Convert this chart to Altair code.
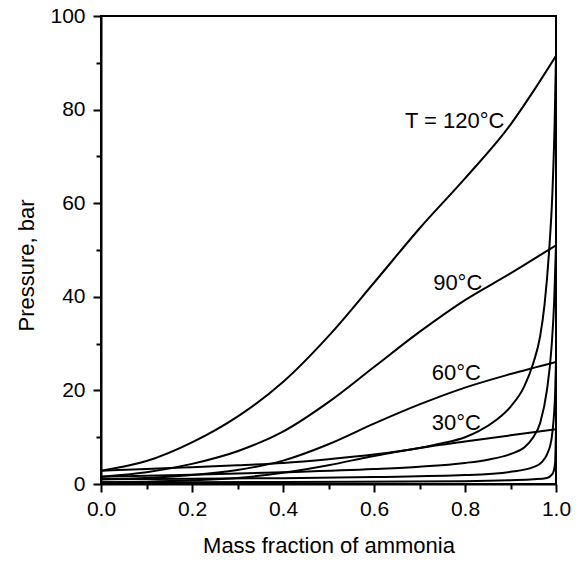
import altair as alt
import pandas as pd

# ---- data (mass fraction of ammonia, pressure in bar) ----
# bubble-point (liquid) curves
bub120_x = [0, 0.1, 0.2, 0.3, 0.4, 0.5, 0.6, 0.7, 0.8, 0.9, 0.95, 1.0]
bub120_p = [2.85, 4.9, 8.9, 14.4, 21.8, 31.6, 43.0, 54.6, 65.3, 76.8, 83.9, 91.5]

bub90_x = [0, 0.1, 0.2, 0.3, 0.4, 0.5, 0.6, 0.7, 0.8, 0.9, 0.95, 1.0]
bub90_p = [1.56, 2.5, 4.3, 7.0, 11.2, 17.5, 25.0, 32.5, 39.3, 45.0, 48.0, 51.0]

bub60_x = [0, 0.1, 0.2, 0.3, 0.4, 0.5, 0.6, 0.7, 0.8, 0.9, 1.0]
bub60_p = [1.0, 1.3, 1.9, 3.0, 5.0, 8.5, 12.9, 17.0, 20.6, 23.5, 26.1]

bub30_x = [0, 0.1, 0.2, 0.3, 0.4, 0.5, 0.6, 0.7, 0.8, 0.9, 1.0]
bub30_p = [0.36, 0.5, 0.8, 1.3, 2.4, 4.0, 6.0, 7.7, 9.1, 10.4, 11.7]

# dew-point (vapour) curves
dew120_x = [0, 0.1, 0.2, 0.3, 0.4, 0.5, 0.6, 0.7, 0.75, 0.8, 0.83, 0.87, 0.9, 0.93, 0.95, 0.965, 0.975, 0.985, 0.992, 0.997, 1.0]
dew120_p = [2.85, 3.2, 3.6, 4.0, 4.5, 5.3, 6.3, 7.7, 8.7, 10.0, 11.3, 13.8, 16.5, 20.8, 25.8, 31.5, 38.5, 50.0, 62.0, 77.0, 91.5]

dew90_x = [0, 0.2, 0.4, 0.6, 0.7, 0.8, 0.85, 0.9, 0.93, 0.95, 0.965, 0.98, 0.99, 0.996, 1.0]
dew90_p = [1.56, 1.95, 2.5, 3.2, 3.7, 4.5, 5.2, 6.4, 7.8, 10.0, 13.0, 20.0, 29.0, 39.0, 51.0]

dew60_x = [0, 0.2, 0.4, 0.6, 0.8, 0.9, 0.95, 0.97, 0.98, 0.99, 0.995, 0.998, 1.0]
dew60_p = [1.0, 1.1, 1.25, 1.5, 1.9, 2.6, 3.6, 4.8, 6.3, 9.5, 14.0, 19.0, 26.1]

dew30_x = [0, 0.4, 0.8, 0.9, 0.95, 0.98, 0.99, 0.995, 0.998, 1.0]
dew30_p = [0.36, 0.45, 0.6, 0.8, 1.0, 1.3, 1.9, 2.8, 4.5, 11.7]

# curve labels
label_text = ["T = 120°C", "90°C", "60°C", "30°C"]
label_x = [0.668, 0.73, 0.727, 0.727]
label_p = [76.1, 41.5, 22.2, 11.5]

# axis ticks
x_ticks = [0, 0.1, 0.2, 0.3, 0.4, 0.5, 0.6, 0.7, 0.8, 0.9, 1.0]
y_ticks = [0, 10, 20, 30, 40, 50, 60, 70, 80, 90, 100]

curves = [
    ("bub120", bub120_x, bub120_p), ("bub90", bub90_x, bub90_p),
    ("bub60", bub60_x, bub60_p), ("bub30", bub30_x, bub30_p),
    ("dew120", dew120_x, dew120_p), ("dew90", dew90_x, dew90_p),
    ("dew60", dew60_x, dew60_p), ("dew30", dew30_x, dew30_p),
]
rows = []
for name, xs, ps in curves:
    for i, (xv, pv) in enumerate(zip(xs, ps)):
        rows.append({"curve": name, "x": xv, "p": pv, "i": i})
df = pd.DataFrame(rows)
lab_df = pd.DataFrame({"t": label_text, "x": label_x, "p": label_p})

FONT = "Liberation Sans"

x_axis = alt.Axis(
    values=x_ticks,
    tickSize={"condition": {"test": "round(datum.value*10) % 2 == 0", "value": 8}, "value": 5},
    labelExpr="round(datum.value*10) % 2 == 0 ? format(datum.value, '.1f') : ''",
    labelFlush=False, labelOverlap=False, labelPadding=6,
    title="Mass fraction of ammonia",
    titleBaseline="alphabetic", titleY=68, titleAnchor="middle",
)
y_axis = alt.Axis(
    values=y_ticks,
    tickSize={"condition": {"test": "datum.value % 20 == 0", "value": 8}, "value": 5},
    labelExpr="datum.value % 20 == 0 ? format(datum.value, 'd') : ''",
    labelOverlap=False, labelPadding=8,
    title="Pressure, bar",
    titleBaseline="alphabetic", titleX=-68, titleY=249, titleAngle=270,
)

lines = alt.Chart(df).mark_line(color="black", strokeWidth=2, interpolate="monotone", clip=True).encode(
    x=alt.X("x:Q", scale=alt.Scale(domain=[0, 1], nice=False, zero=False), axis=x_axis),
    y=alt.Y("p:Q", scale=alt.Scale(domain=[0, 100], nice=False), axis=y_axis),
    detail="curve:N",
    order="i:Q",
)

labels = alt.Chart(lab_df).mark_text(
    align="left", baseline="alphabetic", fontSize=22, font=FONT, color="black"
).encode(
    x="x:Q", y="p:Q", text="t:N"
)

chart = alt.layer(lines, labels).properties(
    width=455, height=468,
    padding={"left": 101, "top": 16, "right": 25, "bottom": 77},
    autosize=alt.AutoSizeParams(type="none"),
    background="white",
).configure_view(
    stroke="black", strokeWidth=2
).configure_axis(
    grid=False, domainColor="black", domainWidth=2, tickColor="black", tickWidth=2,
    labelFont=FONT, labelFontSize=21, labelColor="black",
    titleFont=FONT, titleFontSize=22, titleFontWeight="normal", titleColor="black",
)

chart.save("out.html", embed_options={"renderer": "svg", "actions": False})
